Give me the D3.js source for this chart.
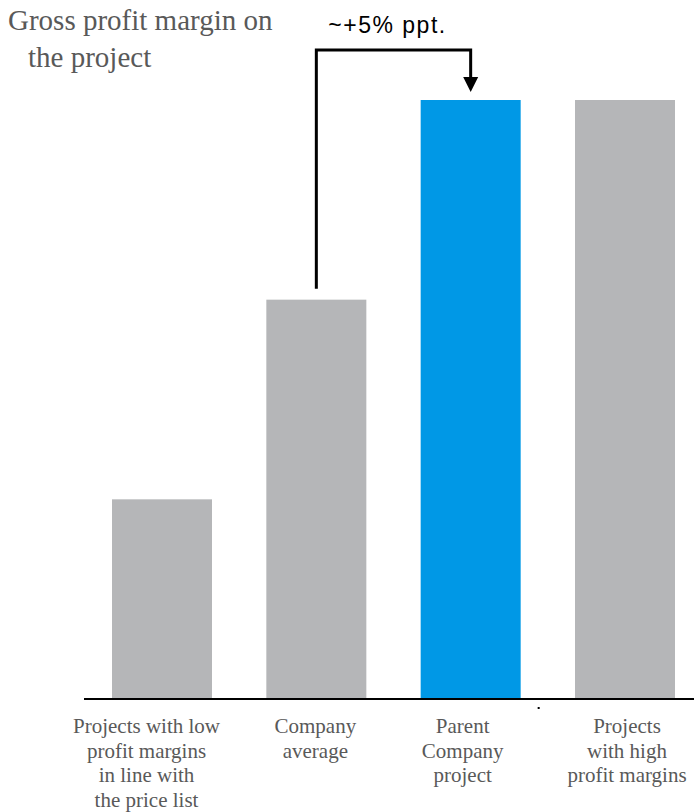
<!DOCTYPE html>
<html>
<head>
<meta charset="utf-8">
<script src="https://cdn.jsdelivr.net/npm/d3@7"></script>
<style>
  body { margin: 0; background: #fff; }
</style>
</head>
<body>
<div id="chart"></div>
<script>
// data (relative margin levels)
var categories = ["low", "average", "parent", "high"];
var labels = [
  ["Projects with low", "profit margins", "in line with", "the price list"],
  ["Company", "average"],
  ["Parent", "Company", "project"],
  ["Projects", "with high", "profit margins"]
];
var values = [1, 2, 3, 3];
var highlight = "parent";
var titleLines = ["Gross profit margin on", "the project"];
var annotation = "~+5% ppt.";

// label blocks are not quite centred under their bars
var labelShift = [-15.5, -1, -8, 2];

function createChart() {
  var width = 694, height = 812;
  var baseY = 699, topY = 100;

  var svg = d3.select("#chart").append("svg")
      .attr("width", width)
      .attr("height", height);

  var x = d3.scaleBand()
      .domain(categories)
      .range([112, 675])
      .paddingInner(0.352)
      .paddingOuter(0);

  var y = d3.scaleLinear()
      .domain([0, d3.max(values)])
      .range([baseY, topY]);

  var data = categories.map((c, i) => ({cat: c, value: values[i], label: labels[i], shift: labelShift[i]}));

  // bars
  svg.selectAll("rect.bar")
    .data(data)
    .join("rect")
      .attr("class", "bar")
      .attr("x", d => x(d.cat))
      .attr("y", d => y(d.value))
      .attr("width", x.bandwidth())
      .attr("height", d => y(0) - y(d.value))
      .attr("fill", d => d.cat == highlight ? "#0098e6" : "#b5b6b8");

  // baseline
  svg.append("line")
      .attr("x1", 84)
      .attr("x2", width)
      .attr("y1", y(0))
      .attr("y2", y(0))
      .attr("stroke", "#000")
      .attr("stroke-width", 2);

  // stray dot under the axis
  svg.append("rect")
      .attr("x", x("parent") + x.bandwidth() + 17)
      .attr("y", y(0) + 8)
      .attr("width", 2)
      .attr("height", 2)
      .attr("fill", "#000");

  // category labels
  var lab = svg.selectAll("text.cat")
    .data(data)
    .join("text")
      .attr("class", "cat")
      .attr("x", d => x(d.cat) + x.bandwidth() / 2 + d.shift)
      .attr("y", y(0) + 34)
      .attr("text-anchor", "middle")
      .attr("fill", "#595959")
      .style("font-family", "'Liberation Serif', 'Times New Roman', serif")
      .style("font-size", "21px");

  lab.selectAll("tspan")
    .data(d => d.label)
    .join("tspan")
      .attr("x", function() { return d3.select(this.parentNode).attr("x"); })
      .attr("dy", (d, i) => i == 0 ? 0 : 24.5)
      .text(d => d);

  // title
  svg.append("text")
      .attr("fill", "#595959")
      .style("font-family", "'Liberation Serif', 'Times New Roman', serif")
      .style("font-size", "29px")
    .selectAll("tspan")
    .data(titleLines)
    .join("tspan")
      .attr("x", (d, i) => i == 0 ? 8 : 28)
      .attr("y", (d, i) => 30 + i * 37)
      .text(d => d);

  // bracket arrow from company average to parent project
  var x0 = x("average") + x.bandwidth() / 2;
  var x1 = x("parent") + x.bandwidth() / 2;
  var yTop = 50;
  var tipY = y(3) - 8;

  svg.append("path")
      .attr("d", `M${x0},${y(2) - 11} V${yTop} H${x1} V${tipY - 14}`)
      .attr("fill", "none")
      .attr("stroke", "#000")
      .attr("stroke-width", 3);

  svg.append("path")
      .attr("d", `M${x1 - 7.5},${tipY - 15} L${x1 + 7.5},${tipY - 15} L${x1},${tipY} Z`)
      .attr("fill", "#000");

  svg.append("text")
      .attr("x", x0 + 12)
      .attr("y", 33)
      .attr("fill", "#000")
      .style("font-family", "'Liberation Sans', Arial, sans-serif")
      .style("font-size", "23px")
      .style("letter-spacing", "1.5px")
      .text(annotation);

  return svg.node();
}

window.onload = createChart;
</script>
</body>
</html>
